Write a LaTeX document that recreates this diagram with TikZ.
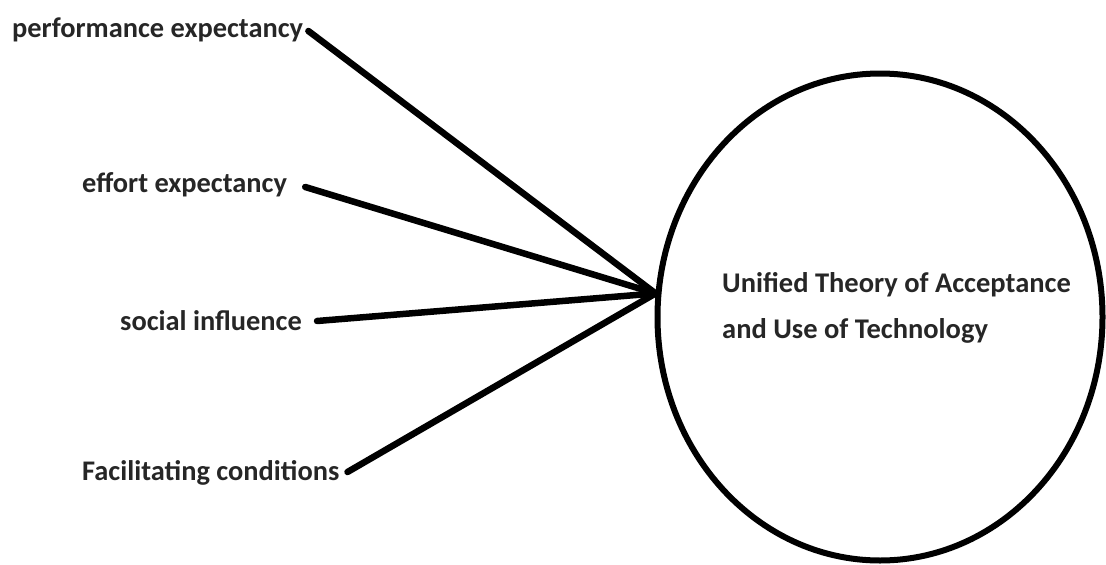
\documentclass[tikz,border=0pt]{standalone}
\usepackage{fontspec}
\setmainfont{Carlito}
\usetikzlibrary{shapes.geometric}
\begin{document}
\begin{tikzpicture}[x=1pt,y=-1pt,
  lbl/.style={font=\bfseries\fontsize{28.4}{30}\selectfont, inner sep=0pt, anchor=base west, text=black!85},
  conn/.style={line width=6.5pt, line cap=round},
  bigcirc/.style={ellipse, draw, line width=6pt, minimum width=445pt, minimum height=487pt, inner sep=0pt}]
\useasboundingbox (0,0) rectangle (1106,565);
\node[bigcirc] (utaut) at (880,317) {};
\node[font=\bfseries\fontsize{28.5}{46}\selectfont, align=left, anchor=base west, inner sep=0pt, text=black!85] (title) at (722,338)
  {Unified Theory of Acceptance\\and Use of Technology};
\node[lbl] (pe) at (12,37) {performance expectancy};
\node[lbl] (ee) at (82,192) {effort expectancy};
\node[lbl] (si) at (120,330) {social influence};
\node[lbl] (fc) at (82,480) {Facilitating conditions};
\coordinate (hub) at (utaut.174);
\draw[conn] ([shift={(5pt,6pt)}]pe.base east) -- (hub);
\draw[conn] ([shift={(18pt,5pt)}]ee.base east) -- (hub);
\draw[conn] ([shift={(15pt,9pt)}]si.base east) -- (hub);
\draw[conn] ([shift={(8pt,8pt)}]fc.base east) -- (hub);
\end{tikzpicture}
\end{document}
